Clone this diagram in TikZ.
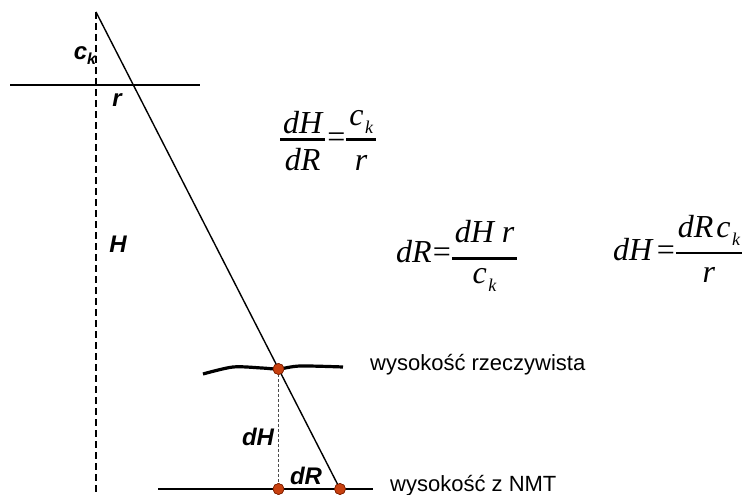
\documentclass[tikz,border=0pt]{standalone}
\usepackage{fontspec}
\setmainfont{Liberation Serif}
\newfontfamily\arialfont{Liberation Sans}
\definecolor{dotred}{HTML}{C8400F}
\definecolor{dotdark}{HTML}{7A1E00}
\newsavebox\numbox
\newsavebox\denbox
\newlength\frw
% \fr{num}{den}{num bottom above bar}{den baseline below bar}{bar above baseline}{bar overhang}
\newcommand{\fr}[6]{%
  \sbox\numbox{#1}\sbox\denbox{#2}%
  \setlength\frw{\wd\numbox}%
  \ifdim\wd\denbox>\frw \setlength\frw{\wd\denbox}\fi
  \setlength\frw{\dimexpr\frw+#6+#6\relax}%
  \rlap{\raisebox{\dimexpr#5+#3+\dp\numbox\relax}{\makebox[\frw]{\usebox\numbox}}}%
  \rlap{\raisebox{\dimexpr#5-1.3pt\relax}{\rule{\frw}{2.6pt}}}%
  \raisebox{\dimexpr#5-#4\relax}{\makebox[\frw]{\usebox\denbox}}}
\newcommand{\sbk}{\kern1.5pt\raisebox{-8pt}{\fontsize{18}{18}\selectfont k}}
\begin{document}
\begin{tikzpicture}[x=1pt,y=-1pt,
  lbl/.style={font=\arialfont\bfseries\itshape\fontsize{24}{28}\selectfont, inner sep=0},
  txt/.style={font=\arialfont\fontsize{22}{26}\selectfont, anchor=west, inner sep=0},
  eq/.style={font=\itshape\fontsize{32}{38}\selectfont, inner sep=0, anchor=base west},
  dotnode/.style={circle, fill=dotred, draw=dotdark, line width=0.6pt, minimum size=11pt, inner sep=0},
  thickline/.style={line width=2.3pt},
  axisline/.style={line width=2.3pt, dash pattern=on 7pt off 4pt},
  thinline/.style={line width=1.4pt},
  guide/.style={line width=0.5pt, dash pattern=on 3pt off 2pt, black!70}]
\useasboundingbox (0,0) rectangle (747,495);

% coordinates
\coordinate (top) at (96,12);
\coordinate (axbot) at (96,495);
\coordinate (hl) at (10,85);
\coordinate (hr) at (200,85);
\coordinate (bl) at (158,489);
\coordinate (br) at (373,489);

% points
\node[dotnode] (p1) at (278.5,369) {};
\node[dotnode] (p2) at (278.5,489) {};
\node[dotnode] (p3) at (340,489) {};

% lines
\draw[axisline] (top) -- (axbot);
\draw[line width=1.8pt] (hl) -- (hr);
\draw[thickline] (bl) -- (br);
\draw[line width=3.2pt] plot[smooth, tension=0.5] coordinates {(203,374) (233,367) (262,368) (278.5,369) (300,366) (343,367)};
\draw[guide] (p1.center) -- (p2.center);
\draw[thinline] (top) -- (p3.center);

% redraw dots on top
\foreach \p in {p1,p2,p3} \fill[dotred, draw=dotdark, line width=0.6pt] (\p) circle (5.5pt);

% labels
\node[lbl] (ck) at (85,56) {c{\fontsize{16}{16}\selectfont\raisebox{-5pt}{k}}};
\node[lbl] (rl) at (117,100) {r};
\node[lbl] (Hl) at (118,244) {H};
\node[lbl] (dHl) at (258,437) {dH};
\node[lbl] (dRl) at (306,476) {dR};

\node[txt] (t1) at (370,365) {wysokość rzeczywista};
\node[txt] (t2) at (390,486) {wysokość z NMT};

% equations
\node[eq] (e1) at (280,147.5) {\fr{dH}{dR}{5.5pt}{30.5pt}{8pt}{3pt}\kern2pt\textup{=}\kern1pt\fr{c\sbk}{r}{6pt}{30.5pt}{8pt}{3pt}};
\node[eq] (e2) at (396,262) {dR\kern1pt\textup{=}\kern1pt\fr{dH\hspace{8pt}r}{c\sbk}{15pt}{25pt}{3.7pt}{3pt}};
\node[eq] (e3) at (613,260) {dH\hspace{3pt}\textup{=}\hspace{1pt}\fr{dR\hspace{3pt}c\sbk}{r}{8pt}{29pt}{7pt}{2pt}};
\end{tikzpicture}
\end{document}
